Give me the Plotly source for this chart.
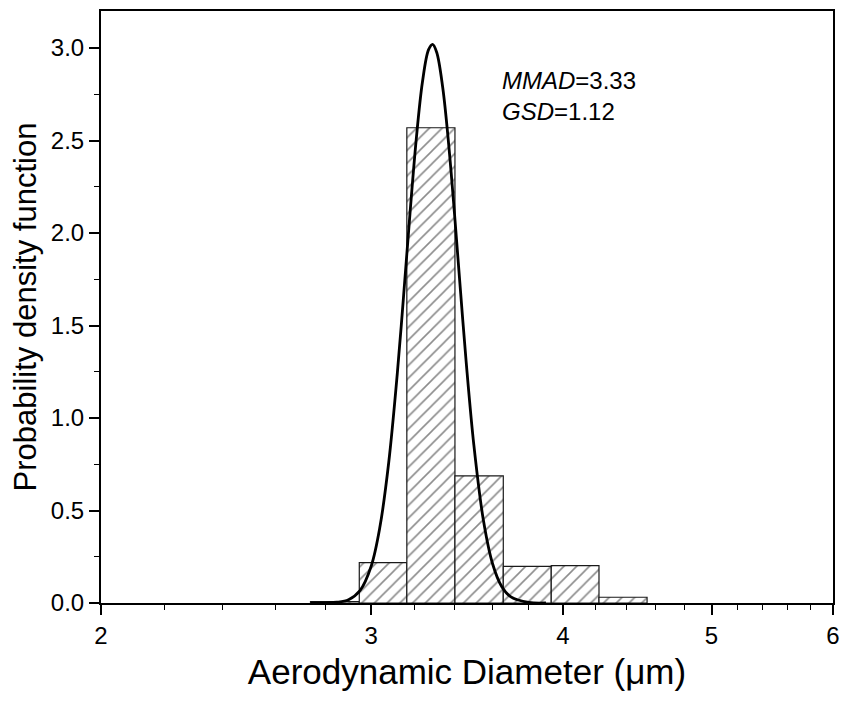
import plotly.graph_objects as go

# Histogram bins (aerodynamic diameter, µm) and density heights
bin_edges = [2.739, 2.947, 3.165, 3.402, 3.658, 3.931, 4.223, 4.539]
bin_heights = [0.008, 0.218, 2.569, 0.687, 0.198, 0.202, 0.031]

# Fitted log-normal curve
curve_x = [2.74, 2.80, 2.85, 2.90, 2.95, 3.00, 3.04, 3.08, 3.12, 3.15, 3.18, 3.21,
           3.24, 3.27, 3.29, 3.31, 3.34, 3.37, 3.40, 3.43, 3.46, 3.50, 3.55, 3.60,
           3.65, 3.70, 3.80, 3.90]
curve_y = [0.000, 0.001, 0.004, 0.018, 0.067, 0.199, 0.413, 0.758, 1.240, 1.666, 2.105, 2.506,
           2.816, 2.991, 3.020, 2.977, 2.788, 2.481, 2.100, 1.692, 1.301, 0.853, 0.450, 0.211,
           0.088, 0.033, 0.003, 0.000]

x_tick_vals = [2, 3, 4, 5, 6]
x_tick_text = ["2", "3", "4", "5", "6"]
x_minor_vals = [2.2, 2.4, 2.6, 2.8, 3.2, 3.4, 3.6, 3.8, 4.2, 4.4, 4.6, 4.8,
                5.2, 5.4, 5.6, 5.8]
y_tick_vals = [0, 0.5, 1.0, 1.5, 2.0, 2.5, 3.0]

annot_lines = ["<i>MMAD</i>=3.33", "<i>GSD</i>=1.12"]

FONT = "Liberation Sans, Arial, sans-serif"

fig = go.Figure()

for i, h in enumerate(bin_heights):
    e0, e1 = bin_edges[i], bin_edges[i + 1]
    fig.add_trace(go.Scatter(
        x=[e0, e0, e1, e1, e0], y=[0, h, h, 0, 0],
        mode="lines", fill="toself",
        fillcolor="white",
        fillpattern=dict(shape="/", fgcolor="#1a1a1a", bgcolor="white",
                         size=9, solidity=0.18),
        line=dict(color="#1a1a1a", width=1.2),
        showlegend=False, hoverinfo="skip",
    ))

fig.add_trace(go.Scatter(
    x=curve_x, y=curve_y, mode="lines",
    line=dict(color="black", width=2.8, shape="spline", smoothing=1.0),
    showlegend=False,
))

fig.add_annotation(
    x=0.545, y=0.908, xref="paper", yref="paper",
    xanchor="left", yanchor="top", align="left",
    text="<br>".join(annot_lines), showarrow=False,
    font=dict(family=FONT, size=24, color="black"),
)

# the page adds an 8px body margin; the figure is sized to fit the window
# so the plot box lands at x 101..833, y 11..603
fig.update_layout(
    width=833, height=693,
    margin=dict(l=93, r=8, t=3, b=98),
    paper_bgcolor="white", plot_bgcolor="white",
    font=dict(family=FONT, color="black"),
    showlegend=False,
)

fig.update_xaxes(
    type="log", range=[0.30103, 0.778151], automargin=False,
    tickvals=x_tick_vals, ticktext=x_tick_text, ticklabeloverflow="allow",
    ticks="outside", ticklen=10, tickwidth=1.5, tickcolor="black",
    minor=dict(tickvals=x_minor_vals, ticks="outside", ticklen=5,
               tickwidth=1.3, tickcolor="black", showgrid=False),
    showline=True, linewidth=2, linecolor="black", mirror=True,
    showgrid=False, zeroline=False,
    tickfont=dict(family=FONT, size=24, color="black"),
    title=dict(text="Aerodynamic Diameter (μm)", standoff=12,
               font=dict(family=FONT, size=35, color="black")),
)

fig.update_yaxes(
    range=[0, 3.2], tickvals=y_tick_vals, tickformat=".1f", automargin=False,
    ticks="outside", ticklen=10, tickwidth=1.5, tickcolor="black",
    minor=dict(dtick=0.25, ticks="outside", ticklen=5, tickwidth=1.3,
               tickcolor="black", showgrid=False),
    showline=True, linewidth=2, linecolor="black", mirror=True,
    showgrid=False, zeroline=False,
    tickfont=dict(family=FONT, size=24, color="black"),
    title=dict(text="Probability density function", standoff=8,
               font=dict(family=FONT, size=31, color="black")),
)

fig.write_html("out.html")
